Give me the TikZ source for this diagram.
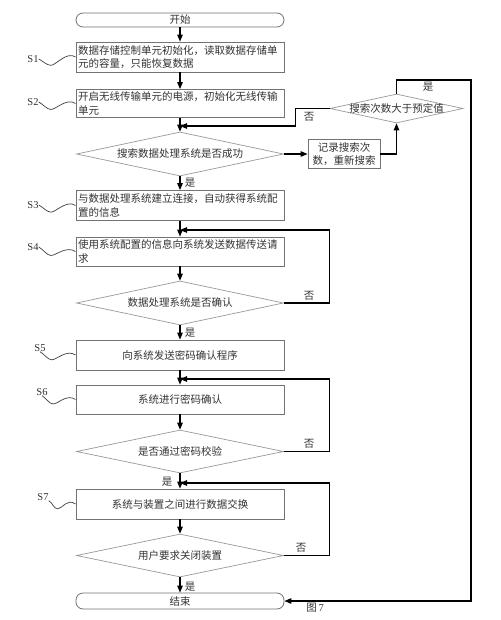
\documentclass[tikz,border=0pt]{standalone}
\usepackage{fontspec}
\setmainfont{Liberation Serif}
\newfontfamily\cjk{Noto Sans CJK SC}
\usetikzlibrary{shapes.geometric,arrows.meta,calc}
\newcommand\squig[2]{\draw[wave] (#1) .. controls +(4,2) and +(-4,0) .. ($(#1)!0.33!(#2)+(0,7)$) .. controls +(5,0) and +(-9,-6) .. (#2);}
\begin{document}
\begin{tikzpicture}[x=1pt,y=-1pt,
  font=\cjk\fontsize{10.5}{13.5}\selectfont,
  every node/.style={text=black!80},
  proc/.style={draw=black!55, line width=0.8pt, minimum width=208pt, inner sep=2pt, text width=204pt, align=left},
  procc/.style={proc, align=center},
  term/.style={draw=black!55, line width=0.8pt, rounded corners=7pt, minimum width=208pt, inner sep=0pt},
  dec/.style={diamond, draw=black!40, line width=0.7pt, inner sep=0pt, minimum width=207pt, minimum height=44pt},
  flow/.style={draw=black, line width=1.1pt, -{Triangle[length=7pt,width=5.5pt]}},
  wave/.style={draw=black!75, line width=0.7pt},
  slab/.style={font=\rmfamily\fontsize{10.5}{12}\selectfont, inner sep=0pt},
  lab/.style={inner sep=0pt}
]
\useasboundingbox[fill=white] (0,0) rectangle (500,620);

% main column
\node[term, minimum height=14pt] (start) at (180,20) {开始};
\node[proc, minimum height=30pt] (s1) at (180,57) {数据存储控制单元初始化，读取数据存储单\\元的容量，只能恢复数据};
\node[proc, minimum height=28pt] (s2) at (180,103.5) {开启无线传输单元的电源，初始化无线传输\\单元};
\node[dec] (d1) at (180,154) {};
\node[lab] (d1t) at (d1) {搜索数据处理系统是否成功};
\node[draw=black!55, line width=0.8pt, minimum width=72pt, minimum height=29pt, inner sep=1pt, align=center] (rec) at (344,154) {记录搜索次\\数，重新搜索};
\node[dec, minimum width=133pt, minimum height=29pt] (d2) at (396.5,108.5) {};
\node[lab] (d2t) at (d2) {搜索次数大于预定值};
\node[proc, minimum height=30pt] (s3) at (180,205.5) {与数据处理系统建立连接，自动获得系统配\\置的信息};
\node[proc, minimum height=29pt] (s4) at (180,251.5) {使用系统配置的信息向系统发送数据传送请\\求};
\node[dec] (d3) at (180,303) {};
\node[lab] (d3t) at (d3) {数据处理系统是否确认};
\node[procc, minimum height=30pt] (s5) at (180,355) {向系统发送密码确认程序};
\node[procc, minimum height=29pt] (s6) at (180,399.5) {系统进行密码确认};
\node[dec, minimum height=43pt] (d4) at (180,451.5) {};
\node[lab] (d4t) at (d4) {是否通过密码校验};
\node[procc, minimum height=30pt] (s7) at (180,504) {系统与装置之间进行数据交换};
\node[dec, minimum height=43pt] (d5) at (180,555.5) {};
\node[lab] (d5t) at (d5) {用户要求关闭装置};
\node[term, minimum height=16pt] (end) at (180,601) {结束};

% junctions
\coordinate (j1) at (180,126);
\coordinate (j2) at (180,230);
\coordinate (j3) at (180,379);
\coordinate (j4) at (180,483);
\coordinate (rt) at (471,80);

% connectors
\draw[flow] (start) -- (s1);
\draw[flow] (s1) -- (s2);
\draw[flow] (s2) -- (d1);
\draw[flow] (d1) -- (rec);
\draw[flow] (rec.east) -| (d2.south);
\draw[flow] (d2.west) -- ++(-34,0) |- (j1);
\draw[flow] (d2.north) |- (rt) |- (end.east);
\draw[flow] (d1) -- (s3);
\draw[flow] (s3) -- (s4);
\draw[flow] (s4) -- (d3);
\draw[flow] (d3.east) -- ++(46,0) |- (j2);
\draw[flow] (d3) -- (s5);
\draw[flow] (s5) -- (s6);
\draw[flow] (s6) -- (d4);
\draw[flow] (d4.east) -- ++(46,0) |- (j3);
\draw[flow] (d4) -- (s7);
\draw[flow] (s7) -- (d5);
\draw[flow] (d5.east) -- ++(46,0) |- (j4);
\draw[flow] (d5) -- (end);

% branch labels
\node[lab] (n1) at (309,117) {否};
\node[lab] (y2) at (428,87) {是};
\node[lab] (y1) at (190,183) {是};
\node[lab] (n3) at (309,296) {否};
\node[lab] (y3) at (190,333) {是};
\node[lab] (n4) at (309,444) {否};
\node[lab] (y4) at (167,482) {是};
\node[lab] (n5) at (301,548) {否};
\node[lab] (y5) at (190,587) {是};
\node[lab] (fig) at (315,608) {图\,\rmfamily 7};

% step labels
\node[slab] (L1) at (33,59) {S1};
\node[slab] (L2) at (33,102) {S2};
\node[slab] (L3) at (33,205) {S3};
\node[slab] (L4) at (33,247) {S4};
\node[slab] (L5) at (40,348) {S5};
\node[slab] (L6) at (42,392) {S6};
\node[slab] (L7) at (43,497) {S7};
\squig{L1.east}{s1.west}
\squig{L2.east}{s2.west}
\squig{L3.east}{s3.west}
\squig{L4.east}{s4.west}
\squig{L5.south}{s5.west}
\squig{L6.south}{s6.west}
\squig{L7.south east}{s7.west}
\end{tikzpicture}
\end{document}
